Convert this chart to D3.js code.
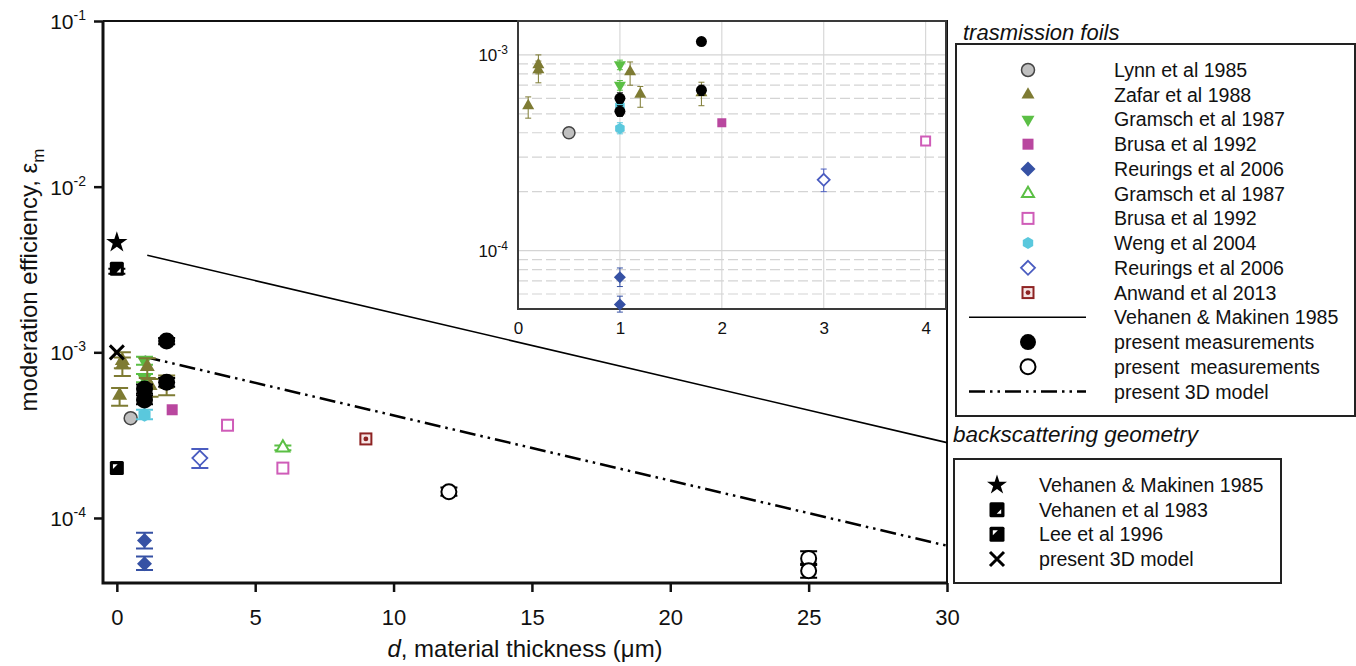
<!DOCTYPE html>
<html><head><meta charset="utf-8">
<script src="https://cdn.jsdelivr.net/npm/d3@7"></script>
<style>body{margin:0;background:#fff}svg{display:block}text{font-family:"Liberation Sans",Arial,sans-serif;fill:#111}</style>
</head><body><svg id="c" width="1356" height="666"></svg>
<script>
// ---------- data ----------
const xTicks = [0, 5, 10, 15, 20, 25, 30];
const yTickExp = [-1, -2, -3, -4];
const insetXTicks = [0, 1, 2, 3, 4];
const insetYTickExp = [-3, -4];
const insetMinorGrid = [2e-4,3e-4,4e-4,5e-4,6e-4,7e-4,8e-4,9e-4,6e-5,7e-5,8e-5,9e-5];

// [x, value, errLow, errHigh]
const lynn = [[0.5, 4.0e-4]];
const zafar = [[0.1,5.5e-4,4.75e-4,6.1e-4],[0.2,8.9e-4,8.0e-4,1.0e-3],[0.2,8.4e-4,7.2e-4,9.3e-4],[1.1,8.2e-4,7.0e-4,9.2e-4],[1.2,6.3e-4,5.4e-4,6.9e-4],[1.8,6.4e-4,5.5e-4,7.25e-4]];
const gramschFilled = [[1.0,8.9e-4,8.4e-4,9.4e-4],[1.0,7.0e-4,6.6e-4,7.4e-4]];
const brusaFilled = [[2.0,4.5e-4]];
const reuringsFilled = [[1.0,7.3e-5,6.55e-5,8.15e-5],[1.0,5.3e-5,4.85e-5,5.85e-5]];
const gramschOpen = [[6.0,2.65e-4,2.56e-4,2.74e-4]];
const brusaOpen = [[4.0,3.63e-4],[6.0,2.0e-4]];
const weng = [[1.0,5.5e-4],[1.0,4.2e-4,3.95e-4,4.5e-4]];
const reuringsOpen = [[3.0,2.3e-4,2.0e-4,2.61e-4]];
const anwand = [[9.0,3.0e-4]];
const presentFilled = [[1.0,6.0e-4,5.65e-4,6.4e-4],[1.0,5.15e-4,4.85e-4,5.5e-4],[1.8,6.6e-4,6.2e-4,7.0e-4],[1.8,1.17e-3,1.12e-3,1.22e-3]];
const presentOpen = [[12,1.44e-4,1.36e-4,1.53e-4],[25,5.7e-5,5.3e-5,6.3e-5],[25,4.8e-5,4.35e-5,5.2e-5]];
const vehanenMakinenBack = [[0,4.6e-3]];
const vehanen1983 = [[0,3.2e-3,2.98e-3,3.2e-3]];
const lee1996 = [[0,2.0e-4]];
const model3DBack = [[0,1.0e-3]];
const vehanenMakinenLine = [[1.1,3.85e-3],[30,2.85e-4]];
const model3DLine = [[1.0,9.4e-4],[30,6.8e-5]];

const transLabels = ["Lynn et al 1985","Zafar et al 1988","Gramsch et al 1987","Brusa et al 1992","Reurings et al 2006","Gramsch et al 1987","Brusa et al 1992","Weng et al 2004","Reurings et al 2006","Anwand et al 2013","Vehanen & Makinen 1985","present measurements","present  measurements","present 3D model"];
const backLabels = ["Vehanen & Makinen 1985","Vehanen et al 1983","Lee et al 1996","present 3D model"];

// ---------- styles ----------
const OLIVE="#7e7b33", GREEN="#5bbf45", MAG="#b9479f", BLUE="#3651a4", PINK="#cf5cb8", CYAN="#5ac8dd", OBLUE="#4a5cc0", DRED="#8e2323";
const series = [
  {d:lynn, type:"circle", fill:"#c0c0c0", stroke:"#444", sw:1.5, sm:13, si:12, sl:13, ec:"#444"},
  {d:zafar, type:"triUp", fill:OLIVE, stroke:OLIVE, sw:0, sm:15, si:12, sl:13, ec:OLIVE},
  {d:gramschFilled, type:"triDown", fill:GREEN, stroke:GREEN, sw:0, sm:15, si:12, sl:13, ec:GREEN},
  {d:brusaFilled, type:"square", fill:MAG, stroke:MAG, sw:0, sm:11, si:9, sl:11, ec:MAG},
  {d:reuringsFilled, type:"diamond", fill:BLUE, stroke:BLUE, sw:0, sm:15, si:12, sl:15, ec:BLUE},
  {d:gramschOpen, type:"triUp", fill:"#fff", stroke:GREEN, sw:2, sm:13, si:11, sl:12, ec:GREEN},
  {d:brusaOpen, type:"square", fill:"#fff", stroke:PINK, sw:2, sm:11, si:9, sl:11, ec:PINK},
  {d:weng, type:"hex", fill:CYAN, stroke:CYAN, sw:0, sm:14, si:11, sl:12, ec:CYAN},
  {d:reuringsOpen, type:"diamond", fill:"#fff", stroke:OBLUE, sw:1.8, sm:15, si:12, sl:14, ec:OBLUE},
  {d:anwand, type:"dotsq", fill:"#f6e6e6", stroke:DRED, sw:2, sm:11, si:9, sl:11, ec:DRED},
  {line:vehanenMakinenLine, dash:null},
  {d:presentFilled, type:"circle", fill:"#000", stroke:"#000", sw:0, sm:17, si:11, sl:16, ec:"#000"},
  {d:presentOpen, type:"circle", fill:"#fff", stroke:"#000", sw:2, sm:15, si:11, sl:15, ec:"#000"},
  {line:model3DLine, dash:"16,5,2.5,5,2.5,5"}
];
const backSeries = [
  {d:vehanenMakinenBack, type:"star", fill:"#000", stroke:"#000", sw:0, sm:16, sl:15, ec:"#000"},
  {d:vehanen1983, type:"halfA", fill:"#000", stroke:"#000", sw:0, sm:14, sl:15, ec:"#000"},
  {d:lee1996, type:"halfB", fill:"#000", stroke:"#000", sw:0, sm:14, sl:15, ec:"#000"},
  {d:model3DBack, type:"cross", fill:"#000", stroke:"#000", sw:3, sm:14, sl:14, ec:"#000"}
];

// ---------- helpers ----------
const svg = d3.select("#c");
const OPEN = "'Open Sans','Liberation Sans',Arial,sans-serif";
function drawMarker(g, st, x, y, s) {
  const t = st.type;
  const h = s * 0.866;
  let el;
  if (t === "circle") {
    el = g.append("circle").attr("cx", x).attr("cy", y).attr("r", s/2);
  } else if (t === "triUp") {
    el = g.append("polygon").attr("points", [[x, y-h*2/3],[x-s/2, y+h/3],[x+s/2, y+h/3]].join(" "));
  } else if (t === "triDown") {
    el = g.append("polygon").attr("points", [[x, y+h*2/3],[x-s/2, y-h/3],[x+s/2, y-h/3]].join(" "));
  } else if (t === "square" || t === "dotsq") {
    el = g.append("rect").attr("x", x-s/2).attr("y", y-s/2).attr("width", s).attr("height", s);
  } else if (t === "diamond") {
    el = g.append("polygon").attr("points", [[x, y-s/2],[x+s/2, y],[x, y+s/2],[x-s/2, y]].join(" "));
  } else if (t === "hex") {
    const pts = d3.range(6).map(i => { const a = Math.PI/3*i + Math.PI/6; return [x + s/2*Math.cos(a), y + s/2*Math.sin(a)]; });
    el = g.append("polygon").attr("points", pts.join(" "));
  } else if (t === "star") {
    el = g.append("path").attr("d", d3.symbol(d3.symbolStar, s*s*0.55)()).attr("transform", `translate(${x},${y})`);
  } else if (t === "halfA" || t === "halfB") {
    g.append("rect").attr("x", x-s/2).attr("y", y-s/2).attr("width", s).attr("height", s).attr("rx", 1.5).attr("fill", "#000");
    const tri = t === "halfA"
      ? [[x+0.28*s, y-0.02*s],[x+0.28*s, y+0.28*s],[x-0.02*s, y+0.28*s]]
      : [[x-0.28*s, y-0.28*s],[x+0.06*s, y-0.28*s],[x-0.28*s, y+0.06*s]];
    g.append("polygon").attr("points", tri.join(" ")).attr("fill", "#fff");
    return;
  } else if (t === "cross") {
    const r = s/2;
    g.append("path").attr("d", `M${x-r},${y-r}L${x+r},${y+r}M${x-r},${y+r}L${x+r},${y-r}`).attr("stroke", "#000").attr("stroke-width", st.sw).attr("fill", "none");
    return;
  }
  el.attr("fill", st.fill).attr("stroke", st.sw ? st.stroke : "none").attr("stroke-width", st.sw);
  if (t === "dotsq") g.append("circle").attr("cx", x).attr("cy", y).attr("r", s*0.22).attr("fill", st.stroke);
}
function drawErr(g, st, x, ylo, yhi, cw, sw) {
  g.append("path").attr("d", `M${x},${ylo}V${yhi}M${x-cw/2},${ylo}H${x+cw/2}M${x-cw/2},${yhi}H${x+cw/2}`)
    .attr("stroke", st.ec).attr("stroke-width", sw).attr("fill", "none");
}
function sup(sel, base, exp, supSize, dy) {
  sel.append("tspan").text(base);
  sel.append("tspan").attr("dy", -dy).attr("font-size", supSize).text(exp);
}

// ---------- main plot ----------
const X = d3.scaleLinear().domain([-0.5, 30]).range([103, 947]);
const Y = d3.scaleLog().domain([4.05e-5, 0.1]).range([583, 21]);
const main = svg.append("g");

// frame
main.append("path").attr("d", `M${X(-0.5)},${Y(0.1)}H${X(30)}V${Y(4.05e-5)}`).attr("stroke", "#111").attr("stroke-width", 2).attr("fill", "none");
main.append("path").attr("d", `M${X(-0.5)},${Y(0.1)}V${Y(4.05e-5)}H${X(30)}`).attr("stroke", "#111").attr("stroke-width", 3).attr("fill", "none");

// x axis
const xa = main.append("g").attr("transform", `translate(0,${Y(4.05e-5)})`)
  .call(d3.axisBottom(X).tickValues(xTicks).tickSize(9).tickSizeOuter(0).tickPadding(17).tickFormat(d3.format("d")));
xa.select(".domain").remove();
xa.selectAll(".tick line").attr("stroke", "#111").attr("stroke-width", 2.5);
xa.selectAll(".tick text").attr("font-size", 22).attr("fill", "#111").attr("font-family", OPEN);

// y axis
const ya = main.append("g").attr("transform", `translate(${X(-0.5)},0)`)
  .call(d3.axisLeft(Y).tickValues(yTickExp.map(e => Math.pow(10, e))).tickSize(9).tickSizeOuter(0).tickFormat(""));
ya.select(".domain").remove();
ya.selectAll(".tick line").attr("stroke", "#111").attr("stroke-width", 2.5);
yTickExp.forEach(e => {
  const t = main.append("text").attr("x", 86).attr("y", Y(Math.pow(10, e)) + 8).attr("text-anchor", "end").attr("font-size", 21);
  sup(t, "10", String(e), 14, 9);
});

// axis titles
const xt = main.append("text").attr("x", 525).attr("y", 657).attr("text-anchor", "middle").attr("font-size", 24)
  .attr("font-family", OPEN);
xt.append("tspan").attr("font-style", "italic").text("d");
xt.append("tspan").text(", material thickness (\u03bcm)");
const yt = main.append("text").attr("transform", "translate(37,280) rotate(-90)").attr("text-anchor", "middle").attr("font-size", 24)
  .attr("font-family", OPEN);
yt.append("tspan").text("moderation efficiency, \u03b5");
yt.append("tspan").attr("dy", 7).attr("font-size", 17).text("m");

// lines
const lineGen = d3.line().x(d => X(d[0])).y(d => Y(d[1]));
series.filter(s => s.line).forEach(s => {
  main.append("path").attr("d", lineGen(s.line)).attr("fill", "none").attr("stroke", "#000")
    .attr("stroke-width", s.dash ? 2.5 : 1.6).attr("stroke-dasharray", s.dash);
});

// ---------- inset ----------
const IX = d3.scaleLinear().domain([0, 4.2]).range([518, 946]);
const IY = d3.scaleLog().domain([5.03e-5, 1.49e-3]).range([309, 21]);
const ins = svg.append("g");
ins.append("rect").attr("x", IX(0)).attr("y", IY(1.49e-3)).attr("width", IX(4.2)-IX(0)).attr("height", IY(5.03e-5)-IY(1.49e-3)).attr("fill", "#fff");
insetXTicks.filter(v => v > 0).forEach(v => ins.append("line").attr("x1", IX(v)).attr("x2", IX(v)).attr("y1", IY(1.49e-3)).attr("y2", IY(5.03e-5)).attr("stroke", "#d8d8d8").attr("stroke-width", 1.2));
insetMinorGrid.forEach(v => ins.append("line").attr("x1", IX(0)).attr("x2", IX(4.2)).attr("y1", IY(v)).attr("y2", IY(v)).attr("stroke", "#d4d4d4").attr("stroke-width", 1.2).attr("stroke-dasharray", "10,4"));
insetYTickExp.forEach(e => ins.append("line").attr("x1", IX(0)).attr("x2", IX(4.2)).attr("y1", IY(Math.pow(10, e))).attr("y2", IY(Math.pow(10, e))).attr("stroke", "#d4d4d4").attr("stroke-width", 1.2));
ins.append("rect").attr("x", IX(0)).attr("y", IY(1.49e-3)).attr("width", IX(4.2)-IX(0)).attr("height", IY(5.03e-5)-IY(1.49e-3)).attr("fill", "none").attr("stroke", "#3a3a3a").attr("stroke-width", 2);
const ixa = ins.append("g").attr("transform", `translate(0,${IY(5.03e-5)})`)
  .call(d3.axisBottom(IX).tickValues(insetXTicks).tickSize(0).tickPadding(13).tickFormat(d3.format("d")));
ixa.select(".domain").remove();
ixa.selectAll(".tick text").attr("font-size", 17).attr("fill", "#111");
insetYTickExp.forEach(e => {
  const t = ins.append("text").attr("x", 508).attr("y", IY(Math.pow(10, e)) + 6).attr("text-anchor", "end").attr("font-size", 17);
  sup(t, "10", String(e), 12, 7);
});

// markers
function plotSeries(g, sx, sy, st, sizeKey, cw, esw) {
  st.d.forEach(p => {
    if (p.length > 2) drawErr(g, st, sx(p[0]), sy(p[2]), sy(p[3]), cw, esw);
  });
  st.d.forEach(p => drawMarker(g, st, sx(p[0]), sy(p[1]), st[sizeKey]));
}
const order = [0,7,9,6,5,8,3,4,2,1,11,12];
order.forEach(i => plotSeries(main, X, Y, series[i], "sm", 17, 2));
backSeries.forEach(s => plotSeries(main, X, Y, s, "sm", 17, 2));
order.forEach(i => {
  const s = series[i];
  const sub = Object.assign({}, s, {d: s.d.filter(p => p[0] <= 4.2)});
  if (sub.d.length) plotSeries(ins, IX, IY, sub, "si", 6, 1);
});

// ---------- legends ----------
const lg = svg.append("g");
lg.append("text").attr("x", 963).attr("y", 40).attr("font-size", 22).attr("font-style", "italic").text("trasmission foils");
lg.append("rect").attr("x", 956).attr("y", 44).attr("width", 399).attr("height", 372).attr("fill", "none").attr("stroke", "#222").attr("stroke-width", 2);
const rowY = d3.scaleLinear().domain([0, 13]).range([70, 391.5]);
series.forEach((s, i) => {
  const y = rowY(i);
  if (s.line) {
    lg.append("line").attr("x1", 969).attr("x2", 1086).attr("y1", y).attr("y2", y).attr("stroke", "#000")
      .attr("stroke-width", s.dash ? 2.5 : 1.6).attr("stroke-dasharray", s.dash);
  } else {
    drawMarker(lg, s, 1028, y, s.sl);
  }
  lg.append("text").attr("x", 1114).attr("y", y + 7).attr("font-size", 19.6).style("white-space", "pre").text(transLabels[i]);
});
lg.append("text").attr("x", 953).attr("y", 442).attr("font-size", 22.5).attr("font-style", "italic").text("backscattering geometry");
lg.append("rect").attr("x", 954).attr("y", 459).attr("width", 327).attr("height", 124).attr("fill", "none").attr("stroke", "#222").attr("stroke-width", 2);
const rowY2 = d3.scaleLinear().domain([0, 3]).range([485, 559]);
backSeries.forEach((s, i) => {
  const y = rowY2(i);
  drawMarker(lg, s, 997, y, s.sl);
  lg.append("text").attr("x", 1039).attr("y", y + 7).attr("font-size", 19.6).text(backLabels[i]);
});
</script></body></html>
